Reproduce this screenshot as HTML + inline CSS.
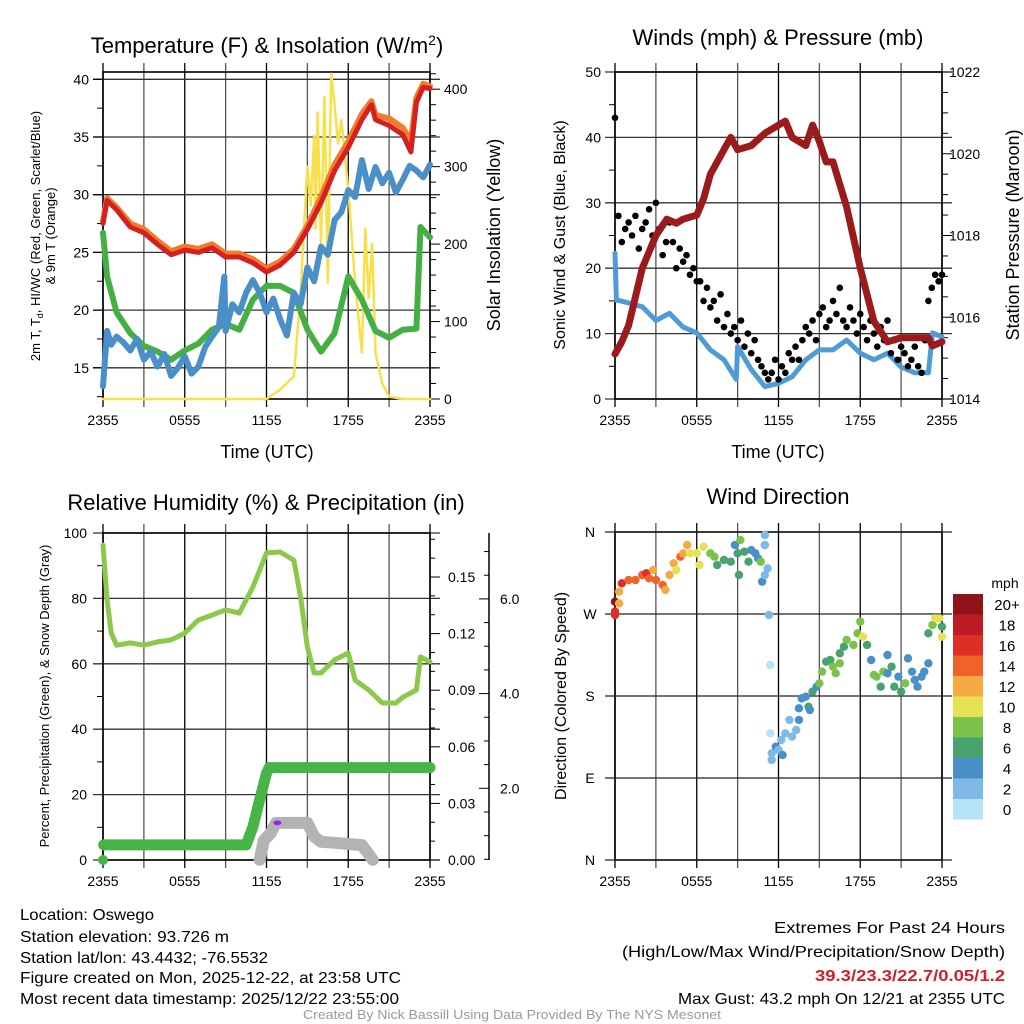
<!DOCTYPE html>
<html><head><meta charset="utf-8"><style>
html,body{margin:0;padding:0;background:#fff;}
svg{display:block;font-family:"Liberation Sans",sans-serif;}
.n{font-family:"Liberation Sans Narrow","Liberation Sans",sans-serif;}
</style></head><body>
<svg id="svg" width="1024" height="1024" viewBox="0 0 1024 1024" xmlns="http://www.w3.org/2000/svg">
<g id="static" fill="#000">
<text x="267" y="53" font-size="22" text-anchor="middle">Temperature (F) &amp; Insolation (W/m<tspan dy="-8" font-size="14">2</tspan><tspan dy="8">)</tspan></text>
<text x="778" y="45" font-size="22" text-anchor="middle">Winds (mph) &amp; Pressure (mb)</text>
<text x="266" y="510" font-size="22" text-anchor="middle">Relative Humidity (%) &amp; Precipitation (in)</text>
<text x="778" y="504" font-size="22" text-anchor="middle">Wind Direction</text>
<text x="267" y="458" font-size="18" text-anchor="middle">Time (UTC)</text>
<text x="778" y="458" font-size="18" text-anchor="middle">Time (UTC)</text>
<g transform="translate(40,236) rotate(-90)" font-size="13" text-anchor="middle">
<text x="0" y="0">2m T, T<tspan dy="3" font-size="9">d</tspan><tspan dy="-3">, HI/WC (Red, Green, Scarlet/Blue)</tspan></text>
<text x="0" y="15">&amp; 9m T (Orange)</text></g>
<text transform="translate(500,235) rotate(-90)" font-size="18" text-anchor="middle">Solar Insolation (Yellow)</text>
<text transform="translate(565,235) rotate(-90)" font-size="16" text-anchor="middle">Sonic Wind &amp; Gust (Blue, Black)</text>
<text transform="translate(1019,235) rotate(-90)" font-size="18" text-anchor="middle">Station Pressure (Maroon)</text>
<text transform="translate(49,696) rotate(-90)" font-size="13" text-anchor="middle">Percent, Precipitation (Green), &amp; Snow Depth (Gray)</text>
<text transform="translate(566,696) rotate(-90)" font-size="16" text-anchor="middle">Direction (Colored By Speed)</text>
<g class="n" font-size="16">
<text x="20" y="920" textLength="134" lengthAdjust="spacingAndGlyphs">Location: Oswego</text>
<text x="20" y="942" textLength="209" lengthAdjust="spacingAndGlyphs">Station elevation: 93.726 m</text>
<text x="20" y="963" textLength="248" lengthAdjust="spacingAndGlyphs">Station lat/lon: 43.4432; -76.5532</text>
<text x="20" y="983" textLength="381" lengthAdjust="spacingAndGlyphs">Figure created on Mon, 2025-12-22, at 23:58 UTC</text>
<text x="20" y="1004" textLength="379" lengthAdjust="spacingAndGlyphs">Most recent data timestamp: 2025/12/22 23:55:00</text>
</g>
<g class="n" font-size="16" text-anchor="end">
<text x="1005" y="933" textLength="231" lengthAdjust="spacingAndGlyphs">Extremes For Past 24 Hours</text>
<text x="1005" y="957" textLength="383" lengthAdjust="spacingAndGlyphs">(High/Low/Max Wind/Precipitation/Snow Depth)</text>
<text x="1005" y="981" fill="#d0202a" font-weight="bold" textLength="190" lengthAdjust="spacingAndGlyphs">39.3/23.3/22.7/0.05/1.2</text>
<text x="1005" y="1004" textLength="327" lengthAdjust="spacingAndGlyphs">Max Gust: 43.2 mph On 12/21 at 2355 UTC</text>
</g>
<text class="n" x="512" y="1019" font-size="13" fill="#999" text-anchor="middle" textLength="418" lengthAdjust="spacingAndGlyphs">Created By Nick Bassill Using Data Provided By The NYS Mesonet</text>
<text x="1005" y="588" font-size="14" text-anchor="middle">mph</text>
</g>
<g id="dyn"></g>
</svg>
<script>
// ---- data ----
const xTickLabels = ["2355","0555","1155","1755","2355"];
const tempTicks = [15,20,25,30,35,40];
const solarTicks = [0,100,200,300,400];
const tempT = [0,0.3,1,2,3,4,5,6,7,8,9,10,11,12,13,14,15,16,17,18,19,19.7,20,21,22,22.6,23,23.5,24];
const tempV = [27.5,29.5,28.7,27.2,26.7,25.7,24.8,25.2,25,25.4,24.6,24.6,24.1,23.3,23.9,25,27,29.3,32.1,34.1,36.5,37.8,36.5,36,35.2,33.7,38,39.3,39.2];
const temp9V = [27.7,29.7,28.9,27.5,27,26,25.1,25.5,25.3,25.7,24.9,24.9,24.4,23.6,24.2,25.3,27.3,29.8,32.6,34.6,37,38.1,36.9,36.6,35.8,34.6,38.4,39.6,39.4];
const dewT = [0,0.3,0.6,1,1.5,2,2.5,3,3.5,4,4.5,5,5.5,6,6.5,7,7.5,8,8.5,8.9,9,9.5,10,10.5,11,11.5,12,12.5,13,13.5,14,14.5,15,15.5,16,16.5,17,17.5,18,18.5,19,19.5,20,20.5,21,21.5,22,22.5,23,23.5,24];
const dewV = [13.4,18.2,17,17.7,17.2,16.5,17.5,15.7,16.4,15.1,16.2,14.3,15,16,14.5,15.1,16.8,17.7,18.5,22.9,18.2,20.5,19.8,21.5,22.6,21.5,19.8,21,19.2,17.8,21.5,20.5,23.7,22.5,25.5,24.8,27.8,28.5,30.4,29.8,33,30.5,32.4,31,31.9,30.2,31.3,32.5,32.1,31.5,32.6];
const wcT = [0,0.3,1,2,3,4,5,6,7,8,9,10,11,12,13,14,15,16,17,18,19,20,21,22,23,23.3,24];
const wcV = [26.7,22.9,19.8,18,16.9,16.4,15.7,16.5,17.1,18.3,18.8,18.3,20.9,22.1,22.1,21.5,18.3,16.4,18,22.9,20.9,18.2,17.6,18.3,18.4,27.2,26.3];
const solT = [0,12,13,14,14.5,14.75,15,15.25,15.5,15.6,15.75,16,16.25,16.5,16.75,17,17.25,17.5,18,18.5,19,19.25,19.5,19.75,20,20.5,21,22,24];
const solV = [0,0,12,29,136,220,300,250,340,220,370,200,390,150,420,380,330,360,270,150,60,220,130,200,60,20,3,0,0];

const windTicks = [0,10,20,30,40,50];
const presTicks = [1014,1016,1018,1020,1022];
const windT = [0,0.1,0.2,1,2,3,4,5,6,7,8,8.9,9,10,11,12,13,14,15,16,17,18,19,20,21,22,23,23.3,24];
const windV = [22.3,15.1,15.1,14.7,14.1,12,13.1,11,10.1,7.5,6,3,8,4.5,1.9,2.4,3.4,6,7.5,7.5,9,7,6,7,4.9,4,4,10.1,9.5];
const presT = [0,0.5,1,2,3,3.8,4.5,5,6,6.5,7,8,8.5,9,10,11,12,12.5,13,14,14.5,15,15.5,16,17,18,19,20,21,22,23,23.3,24];
const presV = [1015.1,1015.4,1015.8,1017.2,1018,1018.4,1018.3,1018.4,1018.5,1018.9,1019.5,1020.1,1020.4,1020.1,1020.2,1020.5,1020.7,1020.8,1020.4,1020.2,1020.7,1020.3,1019.8,1019.8,1018.7,1017.2,1015.9,1015.4,1015.5,1015.5,1015.5,1015.3,1015.4];
const gustV = [43,28,24,26,27,25,28,23,26,27,29,25,30,26,22,24,27,24,20,23,21,22,19,20,18,18,15,17,14,15,12,16,11,13,10,11,9,12,8,10,7,9,6,5,4,3,4,6,3,5,4,7,6,8,6,9,11,10,12,9,13,14,11,12,15,13,17,12,11,14,12,10,13,11,9,12,10,8,11,9,12,7,9,6,8,7,5,6,8,5,4,9,15,17,19,18,19];

const rhTicks = [0,20,40,60,80,100];
const precTicks = ["0.00","0.03","0.06","0.09","0.12","0.15"];
const snowTicks = ["2.0","4.0","6.0"];
const rhT = [0,0.3,0.6,1,2,3,4,5,6,7,8,9,10,11,11.5,12,13,14,14.5,15,15.5,16,17,18,18.5,19.5,20.5,21.5,22,23,23.3,24];
const rhV = [96.3,79.5,69.4,65.7,66.4,65.7,66.7,67.3,69.4,73.4,74.9,76.5,75.5,83.5,88.7,93.9,94.2,91.7,80.4,65.1,57.2,57.2,61.2,63.3,55,52,48,48,49.8,52,62.1,60.6];
const precT = [0,0.05,10.5,11,11.5,12,12.2,24];
const precV = [0,0.008,0.008,0.0175,0.032,0.046,0.049,0.049];
const snowT = [11.5,11.8,12.3,12.7,14,15,15.5,16,17,19,19.8];
const snowV = [0.49,0.9,1.05,1.27,1.27,1.27,0.98,0.87,0.85,0.8,0.49];

const dirLabels = ["N","E","S","W","N"];
const dirT = [0,0,0,0.3,0.3,0.5,1,1.5,2,2.3,2.5,2.8,3,3.5,3.7,4,4.3,4.5,4.8,5,5.3,5.5,6,6.2,6.5,7,7.3,7.5,8,8.5,8.8,9,9.1,9.2,9.5,9.8,10,10.3,10.5,10.7,10.8,11,11,11.2,11,11,11.3,11.4,11.4,11.5,11.5,11.8,12,12.3,12.2,12.5,12.8,13,13.3,13.5,13.5,13.7,14,14.2,14.3,14.5,14.8,15,15.2,15.5,15.8,16,16.2,16.5,16.5,16.8,17,17.5,17.8,18,18.2,18.5,18.8,19,19.2,19.5,19.7,20,20,20.3,20.5,20.8,21,21.3,21.5,21.8,22,22.2,22.5,22.7,23,23,23.3,23.5,23.8,24,24];
const dirV = [283.5,272.6,268.9,294.5,281.7,303.7,307.3,307.3,312.8,314.6,309.2,318.3,307.3,301.8,296.4,312.8,325.6,318.3,332.9,336.6,345.7,336.6,336.6,323.8,343.9,336.6,332.9,323.8,329.3,327.4,345.7,336.6,312.8,351.2,338.4,327.4,340.2,336.6,331.1,327.4,305.5,312.8,345.7,320.1,356.7,345.7,268.9,214,139,109.8,117.1,124.4,120.7,115.2,131.7,139,153.7,135.4,142.7,153.7,166.5,177.4,179.3,168.3,164.6,184.8,190.2,193.9,206.7,217.7,219.5,212.2,204.9,215.9,226.8,234.1,241.5,236,248.8,261.6,245.1,236,219.5,203.1,201.2,190.2,206.7,204.9,225,212.2,190.2,201.2,184.8,193.9,221.3,206.7,197.6,190.2,201.2,206.7,215.9,248.8,257.9,265.3,265.3,245.1,256.1];
const dirS = [20,16,17,12,12,16,14,14,15,17,14,12,14,14,12,12,12,10,15,12,12,10,10,10,10,8,8,6,6,6,4,6,6,8,6,6,4,4,4,8,4,2,2,2,2,2,2,0,0,2,2,4,2,4,2,2,2,2,2,4,4,4,4,6,4,6,4,8,8,6,6,8,8,8,6,6,8,8,8,8,10,6,4,8,8,6,8,4,4,6,6,4,6,8,4,4,4,4,4,4,4,6,8,10,10,10,6];
const cbLabels = ["20+","18","16","14","12","10","8","6","4","2","0"];
const cbColors = ["#8e1418","#bd1c24","#dc3026","#ef6228","#f6a943","#e6e055","#7bc24a","#48a36f","#4a90c8","#7dbbe6","#b7e3f8"];

// ---- helpers ----
const NS="http://www.w3.org/2000/svg";
const dyn=document.getElementById('dyn');
function mk(tag,attrs,parent){const e=document.createElementNS(NS,tag);for(const k in attrs)e.setAttribute(k,attrs[k]);(parent||dyn).appendChild(e);return e;}
function line(x1,y1,x2,y2,c,w,p){return mk('line',{x1,y1,x2,y2,stroke:c,'stroke-width':w},p);}
function txt(x,y,s,anchor,size,p){const t=mk('text',{x,y,'font-size':size,'text-anchor':anchor,'class':'n'},p);t.textContent=s;return t;}
function poly(ts,vs,fx,fy,color,w,name){
  const pts=ts.map((t,i)=>fx(t).toFixed(1)+','+fy(vs[i]).toFixed(1)).join(' ');
  const el=mk('polyline',{points:pts,fill:'none',stroke:color,'stroke-width':w,'stroke-linejoin':'round','stroke-linecap':'round'});
  
  
  return el;
}
function frame(x0,x1,y0,y1,hGrid,name,vGrid){
  const g=mk('g',{});
  
  
  if(vGrid!==false){for(let i=0;i<=8;i++){const x=x0+(x1-x0)*i/8;line(x,y0-9,x,y1+8,i%2?'#555':'#000',1.3,g);}}
  hGrid.forEach(y=>line(x0-10,y,x1+10,y,'#333',1.3,g));
  mk('rect',{x:x0,y:y0,width:x1-x0,height:y1-y0,fill:'none',stroke:'#000','stroke-width':1.6},g);
  xTickLabels.forEach((s,i)=>{const t=txt(x0+(x1-x0)*i/4,y1+26,s,'middle',14,g);});
  return g;
}

// ---- Panel 1: temperature ----
(function(){
  const x0=103,x1=430,y0=72,y1=399;
  const fx=t=>x0+(x1-x0)*t/24;
  const fy=v=>79.3+(40-v)*11.54;
  const fs=v=>y1-v*0.7745;
  frame(x0,x1,y0,y1,tempTicks.map(fy),'temperature-plot-frame');
  tempTicks.forEach(v=>{line(x0-10,fy(v),x0,fy(v),'#000',1.2);const t=txt(x0-14,fy(v)+5,String(v),'end',14);});
  for(let v=12.5;v<41;v+=5){line(x0-6,fy(v),x0,fy(v),'#000',1);}
  for(let v=0;v<=420;v+=20){line(x1,fs(v),x1+(v%100?6:10),fs(v),'#000',1);}
  solarTicks.forEach(v=>{const t=txt(x1+14,fs(v)+5,String(v),'start',14);});
  poly(solT,solV,fx,fs,'#f7e04a',2.5,'solar-insolation-line');
  poly(wcT,wcV,fx,fy,'#44b044',6,'windchill-line');
  poly(dewT,dewV,fx,fy,'#4a8fc8',6,'dewpoint-line');
  poly(tempT,temp9V,fx,fy,'#f27a2a',6,'temp-9m-line');
  poly(tempT,tempV,fx,fy,'#d42020',5,'temp-2m-line');
})();

// ---- Panel 2: winds ----
(function(){
  const x0=615,x1=942,y0=72,y1=399;
  const fx=t=>x0+(x1-x0)*t/24;
  const fy=v=>y1-v*6.54;
  const fp=v=>y1-(v-1014)*40.875;
  frame(x0,x1,y0,y1,windTicks.map(fy),'wind-plot-frame');
  windTicks.forEach(v=>{const t=txt(x0-14,fy(v)+5,String(v),'end',14);});
  for(let v=5;v<50;v+=10){line(x0-6,fy(v),x0,fy(v),'#000',1);}
  for(let v=1014;v<=1022.01;v+=0.5){line(x1,fp(v),x1+(Math.round(v*2)%4==0?10:6),fp(v),'#000',1);}
  presTicks.forEach(v=>{const t=txt(x1+7,fp(v)+5,String(v),'start',14);});
  poly(windT,windV,fx,fy,'#4f9bd6',5,'sonic-wind-line');
  gustV.forEach((v,i)=>{const c=mk('circle',{cx:fx(i*0.25),cy:fy(v),r:3.3,fill:'#000'});
    
    });
  poly(presT,presV,fx,fp,'#9b1a1c',7,'pressure-line');
})();

// ---- Panel 3: humidity ----
(function(){
  const x0=103,x1=430,y0=533,y1=860;
  const fx=t=>x0+(x1-x0)*t/24;
  const fy=v=>y1-v*3.27;
  const fpr=v=>y1-v/0.03*56.6;
  const fsn=v=>883-v*47.35;
  frame(x0,x1,y0,y1,rhTicks.map(fy),'humidity-plot-frame');
  rhTicks.forEach(v=>{const t=txt(x0-16,fy(v)+5,String(v),'end',14);});
  for(let v=10;v<100;v+=20){line(x0-6,fy(v),x0,fy(v),'#000',1);}
  for(let k=0;k<=17;k++){const v=k*0.01;line(x1,fpr(v),x1+(k%3?5:10),fpr(v),'#000',1);}
  precTicks.forEach(s=>{const t=txt(x1+18,fpr(parseFloat(s))+5,s,'start',14);});
  const ax=line(489,533,489,860,'#000',1.5);
  
  
  for(let v=0.5;v<7.5;v+=0.5){line(489,fsn(v),489+(Math.abs(v-Math.round(v/2)*2)<0.01?-10:-5),fsn(v),'#000',1);}
  snowTicks.forEach(s=>{const t=txt(500,fsn(parseFloat(s))+5,s,'start',14);});
  poly(rhT,rhV,fx,fy,'#8cc84b',5,'relative-humidity-line');
  poly(snowT,snowV,fx,fsn,'#b3b3b3',12,'snow-depth-line');
  poly(precT.slice(1),precV.slice(1),fx,fpr,'#46b446',11,'precipitation-line');
  const d=mk('circle',{cx:fx(precT[0]),cy:fpr(precV[0]),r:5,fill:'#46b446'});
  
  
  const pd=mk('ellipse',{cx:fx(12.8),cy:fsn(1.27),rx:4,ry:2.5,fill:'#a020f0'});
  
  
})();

// ---- Panel 4: direction ----
(function(){
  const x0=615,x1=942,y0=532,y1=860;
  const fx=t=>x0+(x1-x0)*t/24;
  const fy=v=>y1-v*(y1-y0)/360;
  const hy=[0,90,180,270,360].map(fy);
  const g=frame(x0,x1,y0,y1,[],'direction-plot-frame');
  hy.forEach(y=>line(x0-10,y,x1+10,y,'#222',1.3,g));
  dirLabels.forEach((s,i)=>{const t=txt(590,fy(i*90)+5,s,'middle',14);});
  const col=s=>cbColors[10-Math.min(10,Math.floor(s/2))];
  dirT.forEach((t,i)=>{const c=mk('circle',{cx:fx(t),cy:fy(dirV[i]),r:4.2,fill:col(dirS[i])});
    
    });
  cbColors.forEach((c,i)=>{const r=mk('rect',{x:953,y:594+i*20.5,width:30,height:20.6,fill:c});
    
    
    const t=txt(1007,594+i*20.5+16,cbLabels[i],'middle',15);
    
    });
})();
</script>
</body></html>
